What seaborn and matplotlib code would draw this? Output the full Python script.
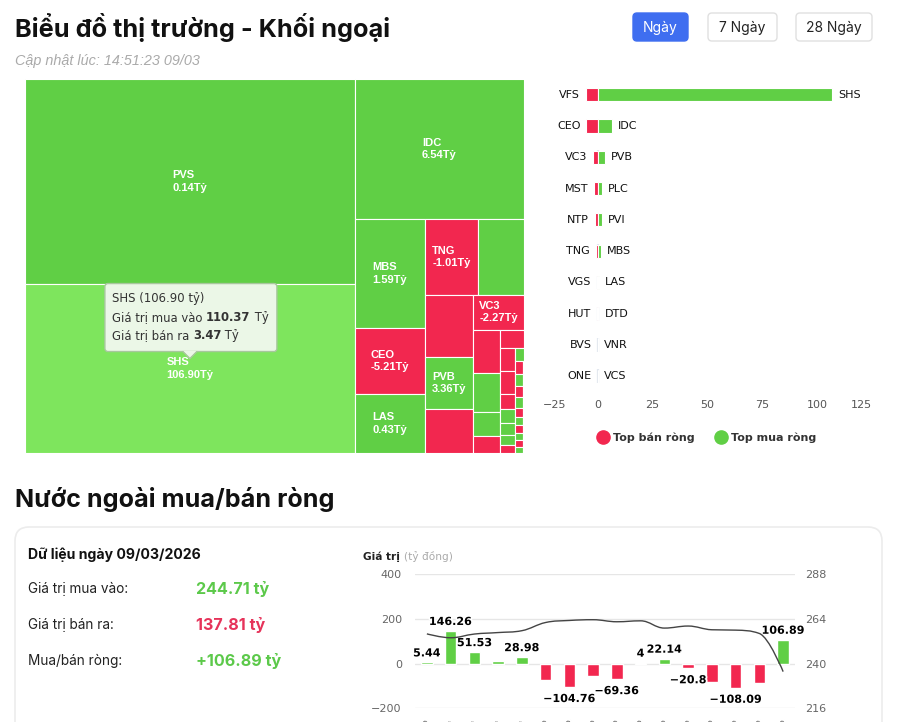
import numpy as np
import pandas as pd
import matplotlib
matplotlib.use("Agg")
import matplotlib.pyplot as plt
import matplotlib.patheffects as pe
from matplotlib.patches import Rectangle, FancyBboxPatch, Polygon, PathPatch
from matplotlib.path import Path
from matplotlib.lines import Line2D
import seaborn as sns

# ---------------- data ----------------
# treemap: ticker, total traded value (buy + sell), net value (ty dong)
tm_names = ["PVS", "SHS", "IDC", "MBS", "CEO", "LAS", "TNG", "PLC", "VFS", "PVB",
            "MST", "VC3", "NTP", "PVI", "DTD", "VGS", "HUT", "BVS", "ONE", "NVB",
            "VNR", "VCS", "L14", "HLD", "TAR", "PSD", "TVD", "AMV", "SHN", "KSV",
            "APS", "TDN", "BCC", "DXP", "VIT", "PVC", "SCG"]
tm_total = [138.2, 113.84, 48.5, 15.6, 9.5, 8.5, 8.1, 7.1, 6.1, 5.1,
            4.3, 3.7, 2.4, 2.16, 1.38, 0.94, 0.89, 0.69, 0.66, 0.46,
            0.43, 0.34, 0.3, 0.25, 0.23, 0.22, 0.2, 0.18, 0.17, 0.15,
            0.14, 0.13, 0.12, 0.11, 0.10, 0.09, 0.08]
tm_net = [0.14, 106.90, 6.54, 1.59, -5.21, 0.43, -1.01, 2.0, -5.6, 3.36,
          -1.6, -2.27, -1.5, 1.9, 0.3, -0.3, -0.25, -0.15, -0.12, -0.08,
          0.2, 0.15, 0.06, -0.05, 0.05, -0.04, 0.04, -0.03, 0.03, -0.02,
          0.02, -0.02, 0.02, -0.01, 0.01, -0.01, 0.01]
hover_name = "SHS"
hover_buy = 110.37
hover_sell = 3.47

# top net sellers / buyers
sell_names = ["VFS", "CEO", "VC3", "MST", "NTP", "TNG", "VGS", "HUT", "BVS", "ONE"]
sell_vals = [-5.6, -5.21, -2.27, -1.6, -1.5, -1.01, -0.3, -0.25, -0.15, -0.12]
buy_names = ["SHS", "IDC", "PVB", "PLC", "PVI", "MBS", "LAS", "DTD", "VNR", "VCS"]
buy_vals = [106.90, 6.54, 3.36, 2.0, 1.9, 1.59, 0.43, 0.3, 0.2, 0.15]

# daily foreign net flow + index
days = ["09/02", "10/02", "11/02", "12/02", "13/02", "23/02", "24/02", "25/02",
        "26/02", "27/02", "02/03", "03/03", "04/03", "05/03", "06/03", "09/03"]
net_flow = [5.44, 146.26, 51.53, 9.8, 28.98, -72.4, -104.76, -54.3,
            -69.36, 4, 22.14, -20.8, -81.5, -108.09, -87.2, 106.89]
index_vals = [256.0, 253.9, 255.9, 256.7, 257.7, 262.1, 263.2, 263.6,
              262.5, 263.0, 259.1, 260.2, 258.2, 258.0, 256.2, 235.7]

buy_total = 244.71
sell_total = 137.81
net_total = 106.89

# ---------------- style ----------------
GREEN = "#60cf45"
GREEN_HOVER = "#7ee55d"
RED = "#f2274f"
TXT_GREEN = "#5cc94a"
TXT_RED = "#e6335a"
UI = ["Inter", "DejaVu Sans"]
CH = ["DejaVu Sans"]

sns.set_theme(style="white")
plt.rcParams["font.family"] = ["DejaVu Sans"]

W, H = 897, 722
fig = plt.figure(figsize=(W / 100, H / 100), dpi=100)
fig.patch.set_facecolor("white")


def px_axes(x0, y0, x1, y1):
    return fig.add_axes([x0 / W, 1 - y1 / H, (x1 - x0) / W, (y1 - y0) / H])


def rich_text(ax, x, y, parts, size, family, **kw):
    s, w, c = parts[0]
    t = ax.text(x, y, s, fontsize=size, fontweight=w, color=c, family=family,
                va="center", ha="left", **kw)
    for s, w, c in parts[1:]:
        t = ax.annotate(s, xy=(1, 0), xycoords=t, va="bottom", ha="left",
                        fontsize=size, fontweight=w, color=c, family=family, **kw)
    return t


# ---------------- page background ----------------
bg = px_axes(0, 0, W, H)
bg.set_xlim(0, W)
bg.set_ylim(H, 0)
bg.axis("off")

bg.text(15, 28, "Biểu đồ thị trường - Khối ngoại", fontsize=18.2,
        fontweight="bold", family=UI, va="center", color="#111111")
bg.text(15, 61, "Cập nhật lúc: 14:51:23 09/03", fontsize=10.4, style="italic",
        family=["Liberation Sans"], color="#aaaaaa", va="center")

buttons = ["Ngày", "7 Ngày", "28 Ngày"]
btn_x = [(633, 688), (708, 777), (796, 872)]
for k, (lbl, (x0, x1)) in enumerate(zip(buttons, btn_x)):
    active = k == 0
    bg.add_patch(FancyBboxPatch((x0, 13), x1 - x0, 28,
                                boxstyle="round,pad=0,rounding_size=4",
                                facecolor="#3f6ef0" if active else "white",
                                edgecolor="#3f6ef0" if active else "#e0e0e0", lw=1))
    bg.text((x0 + x1) / 2, 27.5, lbl, ha="center", va="center", fontsize=10,
            family=UI, color="white" if active else "#222222")

bg.text(15, 500, "Nước ngoài mua/bán ròng", fontsize=18.1, fontweight="bold",
        family=UI, va="center", color="#111111")

bg.add_patch(FancyBboxPatch((15, 527), 867, 260,
                            boxstyle="round,pad=0,rounding_size=14",
                            facecolor="white", edgecolor="#ececec", lw=1.2))

bg.text(28, 555, "Dữ liệu ngày 09/03/2026", fontsize=10.1, fontweight="bold",
        family=UI, va="center", color="#111111")
rows = [("Giá trị mua vào:", f"{buy_total:.2f} tỷ", TXT_GREEN),
        ("Giá trị bán ra:", f"{sell_total:.2f} tỷ", TXT_RED),
        ("Mua/bán ròng:", f"+{net_total:.2f} tỷ", TXT_GREEN)]
for k, (lbl, val, col) in enumerate(rows):
    yy = 589 + 36 * k
    bg.text(28, yy, lbl, fontsize=9.8, family=UI, va="center", color="#222222")
    bg.text(196, yy, val, fontsize=11.6, fontweight="bold", family=UI,
            va="center", color=col)

rich_text(bg, 363, 557, [("Giá trị ", "bold", "#222222"),
                         ("(tỷ đồng)", "normal", "#aaaaaa")], 7.6, CH)

# ---------------- treemap ----------------
TM_X0, TM_Y0, TM_X1, TM_Y1 = 25, 79, 524, 453
TW, TH = TM_X1 - TM_X0, TM_Y1 - TM_Y0
ax_tm = px_axes(TM_X0, TM_Y0, TM_X1, TM_Y1)
ax_tm.set_xlim(0, TW)
ax_tm.set_ylim(TH, 0)
ax_tm.axis("off")


def worst(row, w, h, vertical):
    s = sum(row)
    t = s / h if vertical else s / w
    return max(max(a / (t * t), (t * t) / a) for a in row)


def squarify_alt(areas, x, y, w, h):
    # squarified rows, direction alternating between column and row
    rects = []
    vertical = True
    i = 0
    while i < len(areas):
        row = [areas[i]]
        j = i + 1
        while j < len(areas) and worst(row + [areas[j]], w, h, vertical) <= worst(row, w, h, vertical):
            row.append(areas[j])
            j += 1
        s = sum(row)
        if vertical:
            t = s / h
            yy = y
            for a in row:
                rects.append((x, yy, t, a / t))
                yy += a / t
            x += t
            w -= t
        else:
            t = s / w
            xx = x
            for a in row:
                rects.append((xx, y, a / t, t))
                xx += a / t
            y += t
            h -= t
        vertical = not vertical
        i = j
    return rects


tot = np.array(tm_total, dtype=float)
order = np.argsort(-tot, kind="stable")
areas = list(tot[order] / tot.sum() * TW * TH)
rects = squarify_alt(areas, 0, 0, TW, TH)

tm_labels = []
hover_rect = None
for k, (rx, ry, rw, rh) in zip(order, rects):
    name, net = tm_names[k], tm_net[k]
    col = GREEN if net >= 0 else RED
    if name == hover_name:
        col = GREEN_HOVER
        hover_rect = (rx, ry, rw, rh)
    ax_tm.add_patch(Rectangle((rx, ry), rw, rh, facecolor=col,
                              edgecolor="white", lw=0.8))
    t = ax_tm.text(rx + rw / 2, ry + rh / 2, f"{name}\n{net:.2f}Tỷ",
                   ha="center", va="center", multialignment="left",
                   color="white", fontsize=8, fontweight="bold",
                   family=["Liberation Sans"], linespacing=1.3)
    tm_labels.append((t, rw, rh))

# tooltip over the hovered cell
hx, hy, hw, hh = hover_rect
cx, cy = hx + hw / 2, hy + hh / 2
tip_y = cy - 10
box_w, box_h = 172, 68
bx0, by1 = cx - 85, tip_y - 7
by0 = by1 - box_h
TT_BG = "#ebf7e7"
TT_EDGE = "#a7c79d"
ax_tm.add_patch(FancyBboxPatch((bx0, by0), box_w, box_h,
                               boxstyle="round,pad=0,rounding_size=3",
                               facecolor=TT_BG, edgecolor=TT_EDGE, lw=1, zorder=10))
ax_tm.add_patch(Polygon([(cx - 7, by1 - 0.6), (cx, tip_y), (cx + 7, by1 - 0.6)],
                        closed=True, facecolor=TT_BG, edgecolor="none", zorder=11))
ax_tm.plot([cx - 7, cx, cx + 7], [by1, tip_y, by1], color=TT_EDGE, lw=1, zorder=11)
tt_lines = [[(f"{hover_name} ({hover_buy - hover_sell:.2f} tỷ)", "normal", "#333333")],
            [("Giá trị mua vào ", "normal", "#333333"),
             (f"{hover_buy:.2f}", "bold", "#333333"), (" Tỷ", "normal", "#333333")],
            [("Giá trị bán ra ", "normal", "#333333"),
             (f"{hover_sell:.2f}", "bold", "#333333"), (" Tỷ", "normal", "#333333")]]
for k, parts in enumerate(tt_lines):
    rich_text(ax_tm, bx0 + 7, by0 + 15 + 18.5 * k, parts, 8.4, CH, zorder=12)

# ---------------- top sellers / buyers ----------------
ax_bar = px_axes(543, 79, 872, 392)
n_rows = len(sell_names)
df_top = pd.DataFrame({
    "row": list(range(n_rows)) * 2,
    "value": sell_vals + buy_vals,
    "side": ["Top bán ròng"] * n_rows + ["Top mua ròng"] * n_rows,
})
ax_bar.vlines(np.zeros(n_rows), np.arange(n_rows) - 0.22, np.arange(n_rows) + 0.22,
              color="#e2e7ef", lw=1.6, zorder=0.5)
sns.barplot(data=df_top, x="value", y="row", hue="side", orient="h",
            hue_order=["Top bán ròng", "Top mua ròng"],
            palette={"Top bán ròng": RED, "Top mua ròng": GREEN},
            dodge=False, width=0.42, edgecolor="white", linewidth=0.8,
            saturation=1, errorbar=None, legend=False, ax=ax_bar)
for i in range(n_rows):
    ax_bar.annotate(sell_names[i], (sell_vals[i], i), xytext=(-6, 0),
                    textcoords="offset pixels", ha="right", va="center",
                    fontsize=8, color="#111111")
    ax_bar.annotate(buy_names[i], (buy_vals[i], i), xytext=(6, 0),
                    textcoords="offset pixels", ha="left", va="center",
                    fontsize=8, color="#111111")
ax_bar.set_xlim(-25, 125)
ax_bar.set_xticks([-25, 0, 25, 50, 75, 100, 125])
ax_bar.set_yticks([])
ax_bar.set_xlabel("")
ax_bar.set_ylabel("")
ax_bar.patch.set_alpha(0)
for sp in ax_bar.spines.values():
    sp.set_visible(False)
ax_bar.tick_params(axis="x", length=0, pad=6, labelsize=8, labelcolor="#555555")
xl = ax_bar.get_xticklabels()
xl[0].set_ha("left")
xl[-1].set_ha("right")
handles = [Line2D([], [], marker="o", ls="", markersize=9.5, color=RED),
           Line2D([], [], marker="o", ls="", markersize=9.5, color=GREEN)]
ax_bar.legend(handles, ["Top bán ròng", "Top mua ròng"], loc="center",
              bbox_to_anchor=(0.5, -0.147), ncol=2, frameon=False,
              handlelength=0.8, handletextpad=0.5, columnspacing=2.0,
              prop={"weight": "bold", "size": 8}, labelcolor="#333333")

# ---------------- net flow chart ----------------
ax_b = px_axes(415, 574.3, 795, 708.3)
df_flow = pd.DataFrame({"day": days, "value": net_flow,
                        "sign": ["mua" if v >= 0 else "bán" for v in net_flow]})
sns.barplot(data=df_flow, x="day", y="value", hue="sign", order=days,
            palette={"mua": GREEN, "bán": RED}, dodge=False, width=0.48,
            saturation=1, errorbar=None, legend=False, ax=ax_b, zorder=2)
ax_b.set_xlim(-0.5, len(days) - 0.5)
ax_b.set_ylim(-200, 400)
ax_b.set_yticks([-200, 0, 200, 400])
ax_b.yaxis.grid(True, color="#e6e6e6", lw=1)
ax_b.xaxis.grid(False)
ax_b.set_axisbelow(True)
ax_b.set_xlabel("")
ax_b.set_ylabel("")
ax_b.patch.set_alpha(0)
for sp in ax_b.spines.values():
    sp.set_visible(False)
ax_b.set_xticks(range(len(days)))
ax_b.set_xticklabels(days, rotation=45, ha="right", rotation_mode="anchor")
ax_b.tick_params(axis="x", length=0, pad=7, labelsize=8, labelcolor="#666666")
ax_b.tick_params(axis="y", length=0, pad=9.5, labelsize=8, labelcolor="#666666")

bar_labels = []
for i, v in enumerate(net_flow):
    txt = f"{v:g}".replace("-", "\u2212")
    t = ax_b.annotate(txt, (i, v), xytext=(0, 4 if v >= 0 else -7),
                      textcoords="offset pixels", ha="center",
                      va="bottom" if v >= 0 else "top", fontsize=8,
                      fontweight="bold", color="black", zorder=5,
                      path_effects=[pe.withStroke(linewidth=2.5, foreground="white")])
    bar_labels.append(t)

ax_r = ax_b.twinx()
ax_r.set_ylim(216, 288)
ax_r.set_yticks([216, 240, 264, 288])
ax_r.grid(False)
for sp in ax_r.spines.values():
    sp.set_visible(False)
ax_r.tick_params(axis="y", length=0, pad=7, labelsize=8, labelcolor="#666666")


def spline_path(xs, ys, smoothing=1.5):
    n = len(xs)
    lc = list(zip(xs, ys))
    rc = list(zip(xs, ys))
    d = smoothing + 1
    for i in range(1, n - 1):
        px, py = xs[i], ys[i]
        lx, ly = xs[i - 1], ys[i - 1]
        nx, ny = xs[i + 1], ys[i + 1]
        lcx, lcy = (smoothing * px + lx) / d, (smoothing * py + ly) / d
        rcx, rcy = (smoothing * px + nx) / d, (smoothing * py + ny) / d
        corr = (rcy - lcy) * (rcx - px) / (rcx - lcx) + py - rcy
        lcy += corr
        rcy += corr
        if lcy > ly and lcy > py:
            lcy = max(ly, py)
            rcy = 2 * py - lcy
        elif lcy < ly and lcy < py:
            lcy = min(ly, py)
            rcy = 2 * py - lcy
        if rcy > ny and rcy > py:
            rcy = max(ny, py)
            lcy = 2 * py - rcy
        elif rcy < ny and rcy < py:
            rcy = min(ny, py)
            lcy = 2 * py - rcy
        lc[i] = (lcx, lcy)
        rc[i] = (rcx, rcy)
    verts = [(xs[0], ys[0])]
    codes = [Path.MOVETO]
    for i in range(1, n):
        verts += [rc[i - 1], lc[i], (xs[i], ys[i])]
        codes += [Path.CURVE4] * 3
    return Path(verts, codes)


ax_r.add_patch(PathPatch(spline_path(list(range(len(index_vals))), index_vals),
                         facecolor="none", edgecolor="#444444", lw=1))

# ---------------- hide labels that do not fit / overlap ----------------
fig.canvas.draw()
renderer = fig.canvas.get_renderer()
for t, rw, rh in tm_labels:
    bb = t.get_window_extent(renderer)
    if bb.width + 12 > rw or bb.height + 4 > rh:
        t.set_visible(False)

kept = []
for i in np.argsort(-np.abs(net_flow), kind="stable"):
    bb = bar_labels[i].get_window_extent(renderer).padded(-1)
    if any(bb.overlaps(o) for o in kept):
        bar_labels[i].set_visible(False)
    else:
        kept.append(bb)

fig.savefig("out.png", dpi=100)
